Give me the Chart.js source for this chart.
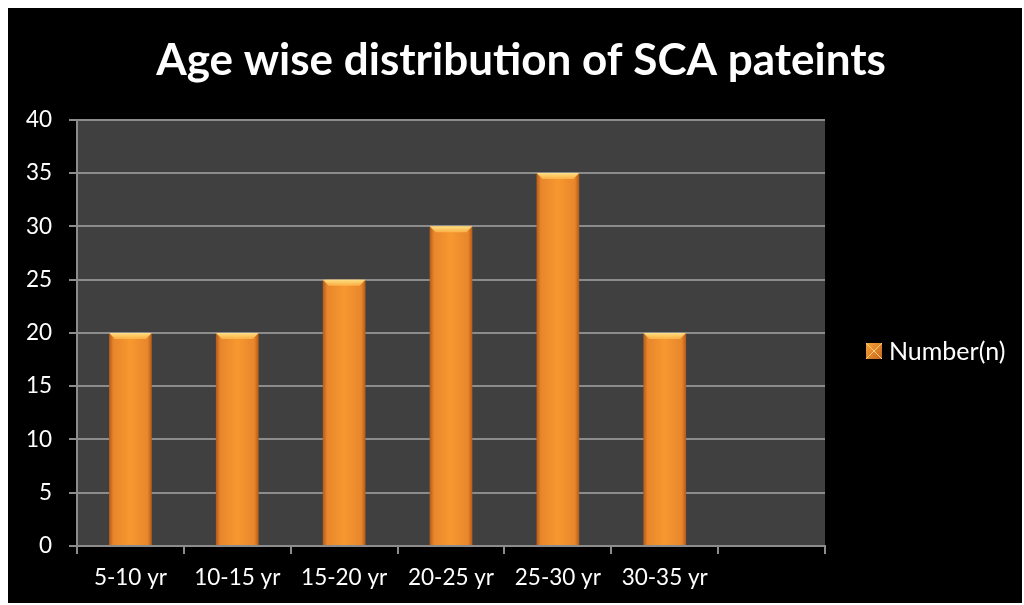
<!DOCTYPE html>
<html><head><meta charset="utf-8">
<script src="https://cdn.jsdelivr.net/npm/chart.js@4.4.1/dist/chart.umd.min.js"></script>
<style>html,body{margin:0;padding:0;background:#fff;}#wrap{width:1024px;height:605px;}</style>
</head><body><div id="wrap"><canvas id="c" width="1024" height="605"></canvas></div>
<script>
const titleText = "Age wise distribution of SCA pateints";
const categories = ["5-10 yr","10-15 yr","15-20 yr","20-25 yr","25-30 yr","30-35 yr",""];
const seriesLabel = "Number(n)";
const values = [20,20,25,30,35,20,null];
const yTicks = {min:0,max:40,step:5};

const FONT = "Lato";
const bg = {
  id:'bg',
  beforeDraw(chart){
    const ctx=chart.ctx; const a=chart.chartArea;
    ctx.save();
    ctx.fillStyle='#fff'; ctx.fillRect(0,0,chart.width,chart.height);
    ctx.fillStyle='#000'; ctx.fillRect(8,8,1014,595);
    ctx.fillStyle='#404040'; ctx.fillRect(a.left,a.top,a.right-a.left,a.bottom-a.top);
    ctx.restore();
  }
};
const bevel = {
  id:'bevel',
  afterDatasetsDraw(chart){
    const ctx=chart.ctx;
    const meta=chart.getDatasetMeta(0);
    ctx.save();
    meta.data.forEach((el,i)=>{
      if(values[i]==null) return;
      const w=el.width, l=el.x-w/2, r=el.x+w/2, t=el.y, d=6;
      if(!isFinite(w)||!isFinite(t)) return;
      const g=ctx.createLinearGradient(0,t,0,t+d);
      g.addColorStop(0,'rgba(255,230,140,0.95)'); g.addColorStop(1,'rgba(255,190,80,0.7)');
      ctx.fillStyle=g;
      ctx.beginPath(); ctx.moveTo(l,t); ctx.lineTo(r,t); ctx.lineTo(r-d,t+d); ctx.lineTo(l+d,t+d); ctx.closePath(); ctx.fill();
    });
    ctx.restore();
  }
};
const legendPlug = {
  id:'legendPlug',
  afterDraw(chart){
    const ctx=chart.ctx;
    const x=866,y=343,s=16;
    ctx.save();
    const g=ctx.createLinearGradient(x,y,x+s,y+s);
    g.addColorStop(0,'#f9a23a'); g.addColorStop(1,'#c8661c');
    ctx.fillStyle=g; ctx.fillRect(x,y,s,s);
    ctx.strokeStyle='#ffd27a'; ctx.lineWidth=1;
    ctx.beginPath(); ctx.moveTo(x,y); ctx.lineTo(x+s,y+s); ctx.moveTo(x+s,y); ctx.lineTo(x,y+s); ctx.stroke();
    ctx.fillStyle='#fff'; ctx.font='25px '+FONT; ctx.textBaseline='middle'; ctx.textAlign='left';
    ctx.fillText(chart.data.datasets[0].label, x+s+7, y+s/2+1);
    ctx.restore();
  }
};
function barColor(c){
  const chart=c.chart;
  const xs=chart.scales && chart.scales.x;
  if(!xs) return '#f0902c';
  const x=xs.getPixelForValue(c.dataIndex);
  const w=(xs.width/categories.length)*0.4;
  if(!isFinite(x)||!isFinite(w)||w<=0) return '#f0902c';
  const g=chart.ctx.createLinearGradient(x-w/2,0,x+w/2,0);
  g.addColorStop(0,'#b45a18');
  g.addColorStop(0.1,'#e8862c');
  g.addColorStop(0.5,'#f7982f');
  g.addColorStop(0.9,'#e8862c');
  g.addColorStop(1,'#b45a18');
  return g;
}
new Chart(document.getElementById('c'),{
  type:'bar',
  data:{labels:categories,datasets:[{label:seriesLabel,data:values,backgroundColor:barColor,borderWidth:0,categoryPercentage:1,barPercentage:0.4,yAxisID:'y'}]},
  options:{
    responsive:false,animation:false,devicePixelRatio:1,
    layout:{padding:{left:18,right:0,top:8,bottom:4}},
    plugins:{
      legend:{display:false},tooltip:{enabled:false},
      title:{display:true,text:titleText,color:'#fff',font:{family:FONT,size:44,weight:'bold'},padding:{top:26,bottom:33}}
    },
    scales:{
      x:{
        grid:{display:true,drawOnChartArea:false,color:'#8c8c8c',lineWidth:2,tickLength:8,offset:true},
        border:{display:true,color:'#8c8c8c',width:2},
        ticks:{color:'#fff',font:{family:FONT,size:22.5},padding:10,maxRotation:0,autoSkip:false}
      },
      y:{
        position:'left',
        min:yTicks.min,max:yTicks.max,
        afterFit(s){s.width=59;},
        grid:{color:'#8c8c8c',lineWidth:2,tickLength:8},
        border:{display:true,color:'#8c8c8c',width:2},
        ticks:{stepSize:yTicks.step,color:'#fff',font:{family:FONT,size:22.5},padding:17}
      },
      legendSpace:{
        type:'linear',position:'right',display:true,
        afterFit(s){s.width=199;},
        grid:{display:false},border:{display:false},ticks:{display:false}
      }
    }
  },
  plugins:[bg,bevel,legendPlug]
});
</script></body></html>
